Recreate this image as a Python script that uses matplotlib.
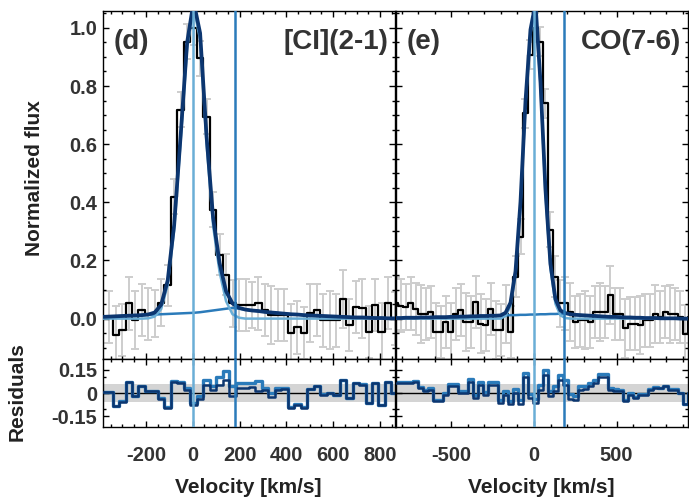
import numpy as np
import matplotlib.pyplot as plt
from matplotlib.ticker import MultipleLocator, FixedLocator

plt.rcParams['font.family'] = ['Liberation Sans', 'DejaVu Sans']
plt.rcParams['font.weight'] = 'bold'
plt.rcParams['axes.unicode_minus'] = False

# ---- [CI](2-1) spectrum, channels of 27.7 km/s starting at -383.8 km/s ----
ci_vel = -383.8 + 27.7 * np.arange(46)
ci_flux = [0.006, 0.006, -0.057, -0.040, 0.052, -0.006, 0.029, 0.017, 0.017, 0.055,
           0.115, 0.419, 0.718, 0.953, 1.000, 0.896, 0.695, 0.375, 0.220, 0.151,
           0.052, 0.046, 0.046, 0.046, 0.052, 0.029, 0.012, 0.012, 0.012, -0.050,
           -0.030, -0.050, 0.018, 0.030, -0.006, -0.006, -0.006, 0.066, -0.022, 0.040,
           0.035, -0.045, 0.046, -0.045, 0.054, 0.000]
ci_err = [0.09, 0.09, 0.10, 0.09, 0.09, 0.10, 0.09, 0.09, 0.08, 0.08,
          0.07, 0.06, 0.06, 0.06, 0.06, 0.06, 0.06, 0.06, 0.07, 0.07,
          0.08, 0.09, 0.09, 0.08, 0.09, 0.09, 0.10, 0.09, 0.09, 0.10,
          0.09, 0.09, 0.10, 0.09, 0.09, 0.10, 0.09, 0.10, 0.09, 0.09,
          0.10, 0.09, 0.09, 0.10, 0.09, 0.09]
ci_narrow = [0, 0, 0, 0, 0, 0, 0, 0.001, 0.007, 0.033,
             0.115, 0.305, 0.612, 0.931, 1.07, 0.96, 0.60, 0.32, 0.16, 0.06,
             0.015, 0.003, 0, 0, 0, 0, 0, 0, 0, 0,
             0, 0, 0, 0, 0, 0, 0, 0, 0, 0,
             0, 0, 0, 0, 0, 0]
ci_broad = [0.006, 0.007, 0.008, 0.009, 0.010, 0.011, 0.012, 0.013, 0.014, 0.015,
            0.016, 0.017, 0.018, 0.019, 0.020, 0.022, 0.025, 0.028, 0.031, 0.034,
            0.037, 0.034, 0.031, 0.028, 0.026, 0.023, 0.021, 0.019, 0.017, 0.015,
            0.014, 0.012, 0.011, 0.010, 0.009, 0.008, 0.007, 0.006, 0.005, 0.004,
            0.004, 0.003, 0.002, 0.002, 0.001, 0.001]
ci_res = [0.006, 0.006, -0.085, -0.055, 0.068, -0.022, 0.043, 0.010, 0.010, -0.038,
          -0.095, 0.068, 0.065, 0.022, -0.076, -0.038, 0.050, 0.020, 0.054, 0.085,
          -0.020, 0.030, 0.030, 0.040, 0.010, 0.020, -0.026, 0.022, 0.025, -0.095,
          -0.076, -0.095, 0.025, 0.043, -0.011, 0.000, -0.011, 0.085, -0.033, 0.065,
          0.054, -0.065, 0.065, -0.076, 0.068, 0.000]
ci_res_narrow = [0.008, 0.008, -0.083, -0.052, 0.071, -0.019, 0.046, 0.013, 0.013, -0.035,
                 -0.090, 0.075, 0.072, 0.030, -0.066, -0.020, 0.085, 0.043, 0.106, 0.144,
                 0.043, 0.065, 0.065, 0.065, 0.076, 0.030, 0.000, 0.030, 0.030, -0.090,
                 -0.072, -0.092, 0.027, 0.045, -0.009, 0.002, -0.010, 0.086, -0.032, 0.066,
                 0.055, -0.064, 0.065, -0.076, 0.068, 0.000]

# ---- CO(7-6) spectrum, channels of 30.2 km/s starting at -836.6 km/s ----
co_vel = -836.6 + 30.2 * np.arange(60)
co_flux = [0.052, 0.045, 0.040, 0.052, 0.034, 0.017, 0.017, 0.023, -0.046, -0.046,
           -0.011, -0.046, 0.017, 0.029, -0.011, -0.011, 0.057, -0.017, -0.023, 0.034,
           -0.040, -0.040, 0.017, -0.046, 0.144, 0.282, 0.706, 0.907, 1.000, 0.953,
           0.741, 0.305, 0.144, 0.052, 0.052, 0.023, -0.011, -0.006, -0.006, -0.011,
           0.023, 0.023, 0.023, 0.080, 0.017, 0.017, -0.034, -0.017, -0.017, -0.023,
           -0.006, -0.006, 0.017, 0.006, 0.023, 0.017, 0.017, 0.006, -0.052, 0.006]
co_err = [0.09, 0.09, 0.08, 0.09, 0.09, 0.10, 0.09, 0.09, 0.10, 0.09,
          0.09, 0.10, 0.09, 0.09, 0.10, 0.09, 0.09, 0.10, 0.09, 0.09,
          0.10, 0.09, 0.10, 0.09, 0.07, 0.06, 0.05, 0.05, 0.05, 0.05,
          0.05, 0.06, 0.07, 0.08, 0.09, 0.10, 0.09, 0.09, 0.10, 0.09,
          0.09, 0.10, 0.09, 0.10, 0.09, 0.09, 0.10, 0.09, 0.09, 0.10,
          0.09, 0.09, 0.10, 0.09, 0.09, 0.10, 0.09, 0.09, 0.10, 0.09]
co_narrow = [0, 0, 0, 0, 0, 0, 0, 0, 0, 0,
             0, 0, 0, 0, 0, 0, 0, 0, 0, 0,
             0, 0, 0.009, 0.043, 0.151, 0.389, 0.735, 0.98, 1.07, 0.80,
             0.43, 0.172, 0.051, 0.011, 0.002, 0, 0, 0, 0, 0,
             0, 0, 0, 0, 0, 0, 0, 0, 0, 0,
             0, 0, 0, 0, 0, 0, 0, 0, 0, 0]
co_broad = [0.002, 0.002, 0.003, 0.003, 0.003, 0.004, 0.004, 0.004, 0.005, 0.005,
            0.005, 0.006, 0.006, 0.007, 0.007, 0.008, 0.008, 0.009, 0.009, 0.010,
            0.010, 0.011, 0.011, 0.012, 0.012, 0.013, 0.013, 0.014, 0.014, 0.015,
            0.015, 0.016, 0.016, 0.017, 0.017, 0.015, 0.013, 0.012, 0.011, 0.010,
            0.009, 0.008, 0.007, 0.006, 0.006, 0.005, 0.004, 0.004, 0.003, 0.003,
            0.002, 0.002, 0.002, 0.001, 0.001, 0.001, 0.001, 0.000, 0.000, 0.000]
co_res = [0.064, 0.064, 0.064, 0.064, 0.074, 0.032, 0.011, 0.021, -0.053, -0.053,
          -0.011, 0.043, 0.043, 0.000, 0.000, 0.074, -0.032, 0.053, -0.011, 0.053,
          0.053, -0.064, -0.011, -0.074, 0.000, -0.074, 0.106, -0.032, -0.064, 0.021,
          0.117, -0.021, 0.011, 0.085, 0.053, -0.038, -0.043, 0.021, 0.025, 0.043,
          0.064, 0.106, 0.106, 0.021, 0.011, 0.011, -0.053, -0.011, -0.032, -0.011,
          -0.011, 0.021, 0.032, 0.032, 0.043, 0.021, 0.021, 0.000, -0.074, 0.000]
co_res_narrow = [0.068, 0.068, 0.069, 0.069, 0.080, 0.040, 0.019, 0.030, -0.043, -0.043,
                 0.000, 0.055, 0.055, 0.014, 0.014, 0.090, -0.016, 0.071, 0.007, 0.073,
                 0.073, -0.042, 0.011, -0.050, 0.024, -0.048, 0.132, -0.004, -0.036, 0.051,
                 0.147, 0.011, 0.043, 0.119, 0.087, -0.008, -0.017, 0.045, 0.047, 0.063,
                 0.082, 0.122, 0.120, 0.033, 0.023, 0.021, -0.045, -0.003, -0.026, -0.005,
                 -0.007, 0.025, 0.036, 0.034, 0.045, 0.023, 0.023, 0.000, -0.074, 0.000]

# velocity markers (km/s)
v_lines = [0, 180]

NAVY = '#0c3670'
MID = '#2b7bba'
LIGHT = '#6aaed6'
GREY = '#cdcdcd'
TXT = '#333333'

fig = plt.figure(figsize=(6.89, 5.01), dpi=100)

W = 292 / 689
top_rect = [(103 / 689, 0.2828, W, 0.6952), (396 / 689, 0.2828, W, 0.6952)]
res_rect = [(103 / 689, 0.1483, W, 0.1345), (396 / 689, 0.1483, W, 0.1345)]

panels = [
    dict(vel=ci_vel, flux=ci_flux, err=ci_err, narrow=ci_narrow, broad=ci_broad,
         res=ci_res, resn=ci_res_narrow, xlim=(-383, 864), major=200, minor=50,
         tag='(d)', line='[CI](2-1)'),
    dict(vel=co_vel, flux=co_flux, err=co_err, narrow=co_narrow, broad=co_broad,
         res=co_res, resn=co_res_narrow, xlim=(-835, 932), major=500, minor=100,
         tag='(e)', line='CO(7-6)'),
]


def style_ax(ax, p, bottom_labels):
    ax.set_xlim(*p['xlim'])
    ax.xaxis.set_major_locator(MultipleLocator(p['major']))
    ax.xaxis.set_minor_locator(MultipleLocator(p['minor']))
    ax.tick_params(which='both', direction='in', top=True, right=True,
                   labelsize=14.5, colors='black', labelcolor=TXT, width=1.0)
    ax.tick_params(which='major', length=4.5)
    ax.tick_params(which='minor', length=2.5)
    ax.tick_params(axis='x', pad=14, labelbottom=bottom_labels)
    ax.tick_params(axis='y', pad=4)
    for s in ax.spines.values():
        s.set_linewidth(1.0)
        s.set_color('black')


for i, p in enumerate(panels):
    vel = p['vel']
    narrow = np.array(p['narrow'])
    broad = np.array(p['broad'])

    ax = fig.add_axes(top_rect[i])
    ax.errorbar(vel, p['flux'], yerr=p['err'], fmt='none', ecolor=GREY,
                elinewidth=1.4, capsize=3.0, capthick=1.4, zorder=1)
    ax.step(vel, p['flux'], where='mid', color='black', lw=1.6, zorder=2)
    ax.plot(vel, broad, color=MID, lw=1.8, zorder=3)
    ax.plot(vel, narrow, color=LIGHT, lw=1.8, zorder=3)
    ax.plot(vel, narrow + broad, color=NAVY, lw=2.7, zorder=4)
    ax.axvline(v_lines[0], color=LIGHT, lw=1.8, zorder=5)
    ax.axvline(v_lines[1], color=MID, lw=1.8, zorder=5)
    ax.set_ylim(-0.14, 1.058)
    ax.yaxis.set_major_locator(MultipleLocator(0.2))
    ax.yaxis.set_minor_locator(MultipleLocator(0.05))
    style_ax(ax, p, False)
    if i == 0:
        ax.set_yticklabels([f'{t:.1f}' for t in ax.get_yticks()])
    else:
        ax.tick_params(axis='y', labelleft=False)
    ax.text(0.035, 0.91, p['tag'], transform=ax.transAxes, fontsize=20,
            ha='left', va='center', color=TXT)
    ax.text(0.978, 0.91, p['line'], transform=ax.transAxes, fontsize=20,
            ha='right', va='center', color=TXT)

    rax = fig.add_axes(res_rect[i])
    rax.axhspan(-0.056, 0.056, color='#d4d4d4', lw=0, zorder=0)
    rax.axhline(0, color='black', lw=1.0, zorder=1)
    rax.step(vel, p['resn'], where='mid', color=MID, lw=2.4, zorder=2)
    rax.step(vel, p['res'], where='mid', color=NAVY, lw=1.8, zorder=3)
    rax.axvline(v_lines[0], color=LIGHT, lw=1.8, zorder=5)
    rax.axvline(v_lines[1], color=MID, lw=1.8, zorder=5)
    rax.set_ylim(-0.217, 0.217)
    rax.yaxis.set_major_locator(FixedLocator([-0.15, 0, 0.15]))
    rax.yaxis.set_minor_locator(FixedLocator([-0.1, 0.1]))
    style_ax(rax, p, True)
    if i == 0:
        rax.set_yticklabels(['-0.15', '0', '0.15'])
    else:
        rax.tick_params(axis='y', labelleft=False)

fig.text(35 / 689, 0.645, 'Normalized flux', rotation=90, fontsize=15,
         ha='center', va='center', color='#222222')
fig.text(17 / 689, 0.2176, 'Residuals', rotation=90, fontsize=15,
         ha='center', va='center', color='#222222')
fig.text(248 / 689, 0.026, 'Velocity [km/s]', fontsize=15,
         ha='center', va='center', color='#222222')
fig.text(541.7 / 689, 0.026, 'Velocity [km/s]', fontsize=15,
         ha='center', va='center', color='#222222')

fig.savefig('out.png', dpi=100)
